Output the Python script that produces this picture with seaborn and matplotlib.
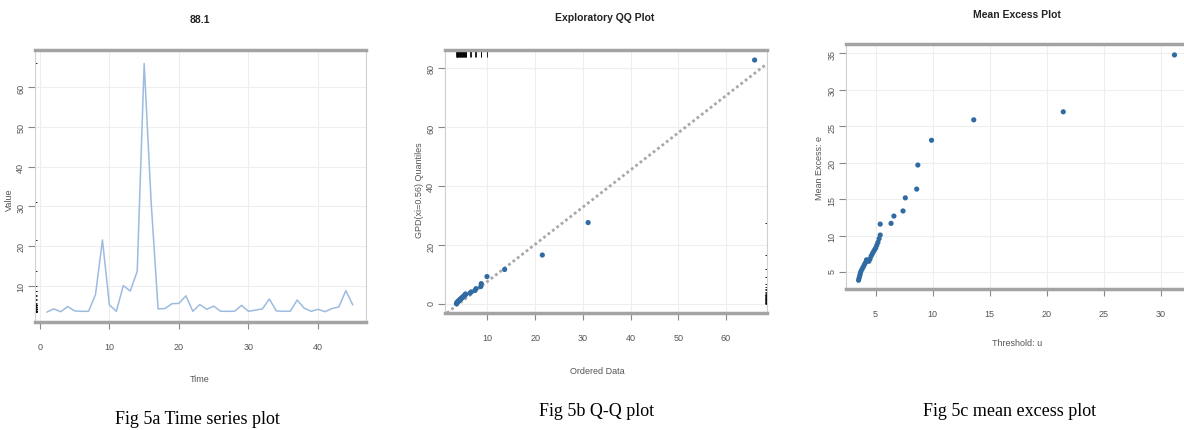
import matplotlib.pyplot as plt
import seaborn as sns
import pandas as pd

# time series (Fig 5a)
time_idx = list(range(1, 46))
values = [3.3, 4.1, 3.4, 4.7, 3.6, 3.5, 3.5, 7.7, 21.5, 5.1,
          3.5, 10.0, 8.6, 13.6, 66.0, 31.1, 4.1, 4.2, 5.4, 5.5,
          7.4, 3.5, 5.2, 4.0, 4.8, 3.5, 3.5, 3.5, 5.0, 3.5,
          3.8, 4.1, 6.6, 3.6, 3.5, 3.5, 6.35, 4.3, 3.5, 4.0,
          3.4, 4.2, 4.6, 8.7, 5.1]

# QQ plot (Fig 5b)
qq_ordered = [3.5, 3.55, 3.6, 3.65, 3.7, 3.8, 3.9, 4.0, 4.1, 4.2,
              4.3, 4.4, 4.5, 4.6, 4.7, 4.8, 4.9, 5.0, 5.1, 5.2,
              5.3, 5.4, 5.4, 6.35, 6.6, 7.4, 7.6, 8.6, 8.7, 9.9,
              13.6, 21.5, 31.1, 66.0]
qq_quantiles = [0.1, 0.2, 0.35, 0.5, 0.65, 0.8, 0.95, 1.1, 1.25, 1.4,
                1.55, 1.7, 1.85, 2.0, 2.15, 2.3, 2.45, 2.6, 2.75, 2.9,
                3.05, 3.2, 3.4, 3.7, 4.1, 4.6, 5.2, 5.9, 6.9, 9.3,
                11.7, 16.6, 27.6, 82.7]
qq_intercept = -4.96
qq_slope = 1.26

# mean excess plot (Fig 5c)
me_threshold = [3.5, 3.55, 3.6, 3.65, 3.7, 3.8, 3.9, 4.0, 4.1, 4.2,
                4.3, 4.4, 4.5, 4.6, 4.7, 4.8, 4.9, 5.0, 5.1, 5.2,
                5.3, 5.4, 5.4, 6.35, 6.6, 7.4, 7.6, 8.6, 8.7, 9.9,
                13.6, 21.45, 31.2]
me_excess = [3.9, 4.2, 4.5, 4.8, 5.1, 5.4, 5.7, 6.0, 6.3, 6.7,
             6.6, 6.5, 6.8, 7.2, 7.5, 7.8, 8.05, 8.3, 8.7, 9.1,
             9.6, 10.1, 11.6, 11.7, 12.7, 13.4, 15.2, 16.4, 19.7, 23.1,
             25.9, 27.0, 34.8]

ts = pd.DataFrame({"Time": time_idx, "Value": values})
qq = pd.DataFrame({"x": qq_ordered, "y": qq_quantiles})
me = pd.DataFrame({"u": me_threshold, "e": me_excess})

sns.set_theme(style="whitegrid")
plt.rcParams['font.family'] = ['Liberation Sans Narrow', 'Liberation Sans', 'DejaVu Sans']

W, H = 1184, 430
fig = plt.figure(figsize=(W / 100, H / 100), dpi=100)


def fx(px):
    return px / W


def fy(py):
    return 1 - py / H


def style(ax):
    ax.set_facecolor('white')
    ax.grid(True, color='#eeeeee', lw=0.8)
    for s in ('top', 'bottom'):
        ax.spines[s].set_color('#a3a3a3')
        ax.spines[s].set_linewidth(2.5)
    for s in ('left', 'right'):
        ax.spines[s].set_color('#d0d0d0')
        ax.spines[s].set_linewidth(0.8)
    ax.tick_params(axis='both', length=5, width=0.8, color='#888888',
                   labelsize=6.5, labelcolor='#555555',
                   bottom=True, left=True)
    ax.tick_params(axis='x', pad=10)
    ax.tick_params(axis='y', pad=2, labelrotation=90)
    ax.set_xlabel('')
    ax.set_ylabel('')


point_color = '#2f6aa3'

# Fig 5a
ax1 = fig.add_axes([fx(35), fy(322), fx(331), 272 / H])
sns.lineplot(data=ts, x="Time", y="Value", ax=ax1, color='#9dbbe0', lw=1.1)
ax1.hlines(values, 0, 0.006, transform=ax1.get_yaxis_transform(),
           color='black', lw=0.6)
ax1.set_xlim(-0.7, 46.9)
ax1.set_ylim(0.8, 69.4)
ax1.set_xticks([0, 10, 20, 30, 40])
ax1.set_yticks([10, 20, 30, 40, 50, 60])
style(ax1)

# Fig 5b
ax2 = fig.add_axes([fx(445), fy(313), fx(322), 263 / H])
ax2.axline((0, qq_intercept), slope=qq_slope, color='#a8a8a8', lw=2,
           linestyle=(0, (1, 1)))
sns.scatterplot(data=qq, x="x", y="y", ax=ax2, color=point_color, s=14,
                edgecolor='none', zorder=3)
top_rug = [v for v in qq_ordered if v < 12]
ax2.vlines(top_rug, 0.975, 1.0, transform=ax2.get_xaxis_transform(),
           color='black', lw=0.6)
ax2.hlines(qq_quantiles[:-1], 0.993, 1.0, transform=ax2.get_yaxis_transform(),
           color='black', lw=0.6)
ax2.set_xlim(1.1, 68.6)
ax2.set_ylim(-3.05, 86.1)
ax2.set_xticks([10, 20, 30, 40, 50, 60])
ax2.set_yticks([0, 20, 40, 60, 80])
style(ax2)

# Fig 5c
ax3 = fig.add_axes([fx(846), fy(289), fx(349), 245 / H])
sns.scatterplot(data=me, x="u", y="e", ax=ax3, color=point_color, s=14,
                edgecolor='none', zorder=3)
ax3.set_xlim(2.4, 33.0)
ax3.set_ylim(2.7, 36.3)
ax3.set_xticks([5, 10, 15, 20, 25, 30])
ax3.set_yticks([5, 10, 15, 20, 25, 30, 35])
style(ax3)

# titles and axis labels
tkw = dict(ha='center', va='center', fontsize=7.5, fontweight='bold', color='#222222')
fig.text(fx(200), fy(20), '88.1', **tkw)
fig.text(fx(605), fy(18), 'Exploratory QQ Plot', **tkw)
fig.text(fx(1017), fy(15), 'Mean Excess Plot', **tkw)

lkw = dict(ha='center', va='center', fontsize=6.5, color='#555555')
fig.text(fx(200), fy(380), 'Time', **lkw)
fig.text(fx(9), fy(200), 'Value', rotation=90, **lkw)
fig.text(fx(597), fy(372), 'Ordered Data', **lkw)
fig.text(fx(419), fy(190), 'GPD(xi=0.56) Quantiles', rotation=90, **lkw)
fig.text(fx(1017), fy(343), 'Threshold: u', **lkw)
fig.text(fx(819), fy(168), 'Mean Excess: e', rotation=90, **lkw)

# captions
ckw = dict(ha='center', va='center', fontsize=13, color='black',
           family=['Liberation Serif', 'DejaVu Serif'])
fig.text(fx(197), fy(419), 'Fig 5a Time series plot', **ckw)
fig.text(fx(597), fy(411), 'Fig 5b Q-Q plot', **ckw)
fig.text(fx(1010), fy(411), 'Fig 5c mean excess plot', **ckw)

fig.savefig('out.png', dpi=100, facecolor='white')
